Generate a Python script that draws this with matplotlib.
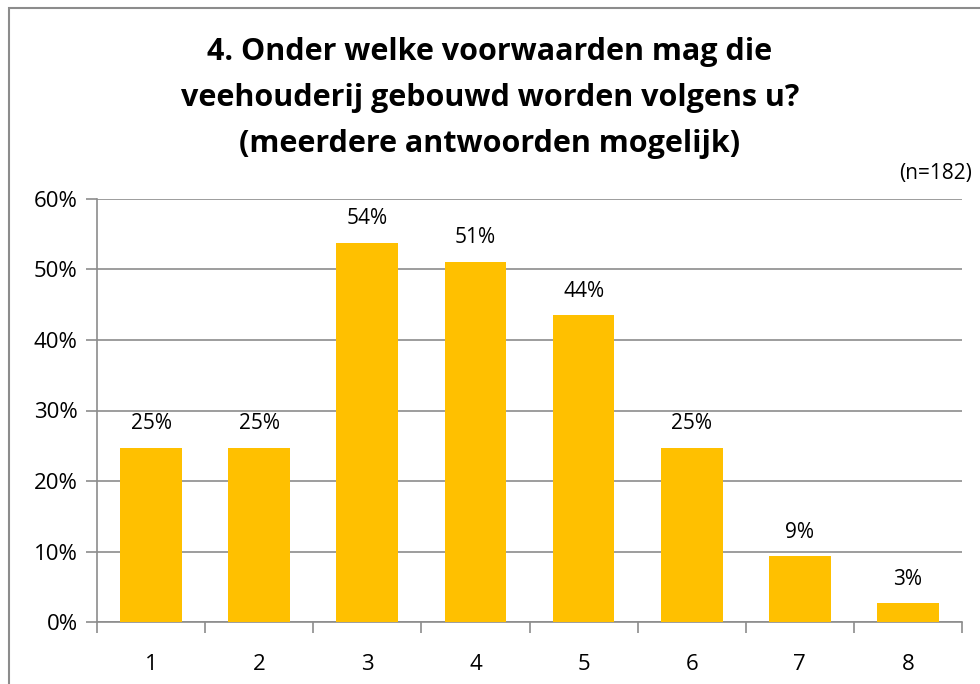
import matplotlib.pyplot as plt
from matplotlib.patches import Rectangle
import matplotlib.ticker as ticker

plt.rcParams['font.family'] = ['Open Sans', 'DejaVu Sans']

categories = ['1', '2', '3', '4', '5', '6', '7', '8']
values = [24.7, 24.7, 53.8, 51.1, 43.5, 24.7, 9.3, 2.7]
title_lines = ['4. Onder welke voorwaarden mag die',
               'veehouderij gebouwd worden volgens u?',
               '(meerdere antwoorden mogelijk)']

fig = plt.figure(figsize=(9.8, 6.84), dpi=100)
ax = fig.add_axes([97/980, 1-622/684, 865/980, 423/684])

grey = '#8c8c8c'
x = list(range(len(categories)))
bars = ax.bar(x, values, width=0.57, color='#FFC000', zorder=3)
for xi, v in zip(x, values):
    ax.text(xi, v + 1.9, f'{round(v):.0f}%', ha='center', va='bottom', fontsize=15)

ax.set_xlim(-0.5, len(categories) - 0.5)
ax.set_ylim(0, 60)
ax.set_yticks(range(0, 61, 10))
ax.yaxis.set_major_formatter(ticker.FuncFormatter(lambda v, p: f'{v:.0f}%'))
ax.set_xticks(x)
ax.set_xticklabels(categories)
ax.set_xticks([i - 0.5 for i in range(len(categories) + 1)], minor=True)
ax.grid(True, axis='y', color=grey, linewidth=1.2, zorder=0)
ax.tick_params(axis='x', which='major', length=0, labelsize=16, pad=23)
ax.tick_params(axis='x', which='minor', length=8, width=1.2, color=grey)
ax.tick_params(axis='y', length=8, width=1.2, color=grey, labelsize=16, pad=6)
for s in ['top', 'right']:
    ax.spines[s].set_visible(False)
for s in ['left', 'bottom']:
    ax.spines[s].set_color(grey)
    ax.spines[s].set_linewidth(1.2)

for i, line in enumerate(title_lines):
    fig.text(490/980, 1 - (52 + 46*i)/684, line, ha='center', va='center',
             fontsize=22, fontweight='bold')
fig.text(972/980, 1 - 173/684, '(n=182)', ha='right', va='center', fontsize=15)

fig.patches.append(Rectangle((9/980, -0.1), 1.2, 1 - 8/684 + 0.1, transform=fig.transFigure,
                             fill=False, edgecolor=grey, linewidth=1.5))

fig.savefig('out.png', dpi=100)
